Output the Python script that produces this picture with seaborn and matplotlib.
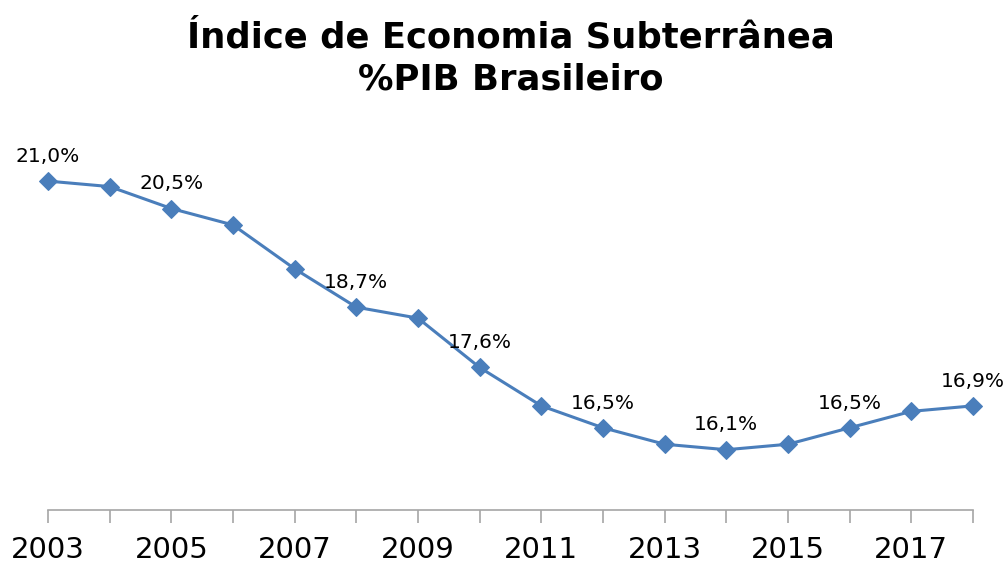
import numpy as np
import pandas as pd
import matplotlib
matplotlib.use("Agg")
import matplotlib.pyplot as plt
import seaborn as sns

anos = [2003, 2004, 2005, 2006, 2007, 2008, 2009, 2010,
        2011, 2012, 2013, 2014, 2015, 2016, 2017, 2018]
indice = [21.0, 20.9, 20.5, 20.2, 19.4, 18.7, 18.5, 17.6,
          16.9, 16.5, 16.2, 16.1, 16.2, 16.5, 16.8, 16.9]
anos_rotulados = [2003, 2005, 2008, 2010, 2012, 2014, 2016, 2018]
anos_eixo = [2003, 2005, 2007, 2009, 2011, 2013, 2015, 2017]

df = pd.DataFrame({"ano": anos, "indice": indice})

sns.set_style("white")
plt.rcParams['font.family'] = ['DejaVu Sans']

fig = plt.figure(figsize=(10.06, 5.66), dpi=100)
ax = fig.add_axes([0.0477, 0.0989, 0.9195, 0.678])

cor = "#4a7ebb"
sns.lineplot(data=df, x="ano", y="indice", ax=ax, color=cor, linewidth=2.2,
             marker="D", markersize=9.5, markeredgecolor=cor, clip_on=False)

for a, v in zip(anos, indice):
    if a in anos_rotulados:
        ax.annotate(f"{v:.1f}%".replace(".", ","), (a, v), xytext=(0, 11),
                    textcoords="offset points", ha="center", va="bottom",
                    fontsize=14.5, color="black")

ax.set_xlim(2003, 2018)
ax.set_ylim(15, 22)
ax.set_xticks(anos)
ax.set_xticklabels([str(a) if a in anos_eixo else "" for a in anos],
                   fontsize=21, color="black")
ax.set_yticks([])
ax.set_xlabel("")
ax.set_ylabel("")
for s in ["top", "right", "left"]:
    ax.spines[s].set_visible(False)
ax.spines["bottom"].set_color("#a6a6a6")
ax.spines["bottom"].set_linewidth(1.2)
ax.tick_params(axis="x", direction="out", length=9, width=1.2,
               color="#a6a6a6", pad=10, bottom=True)

fig.text(0.508, 0.897, "Índice de Economia Subterrânea\n%PIB Brasileiro",
         ha="center", va="center", fontsize=25.5, fontweight="bold",
         linespacing=1.3, color="black")

fig.savefig("out.png", dpi=100, facecolor="white")
